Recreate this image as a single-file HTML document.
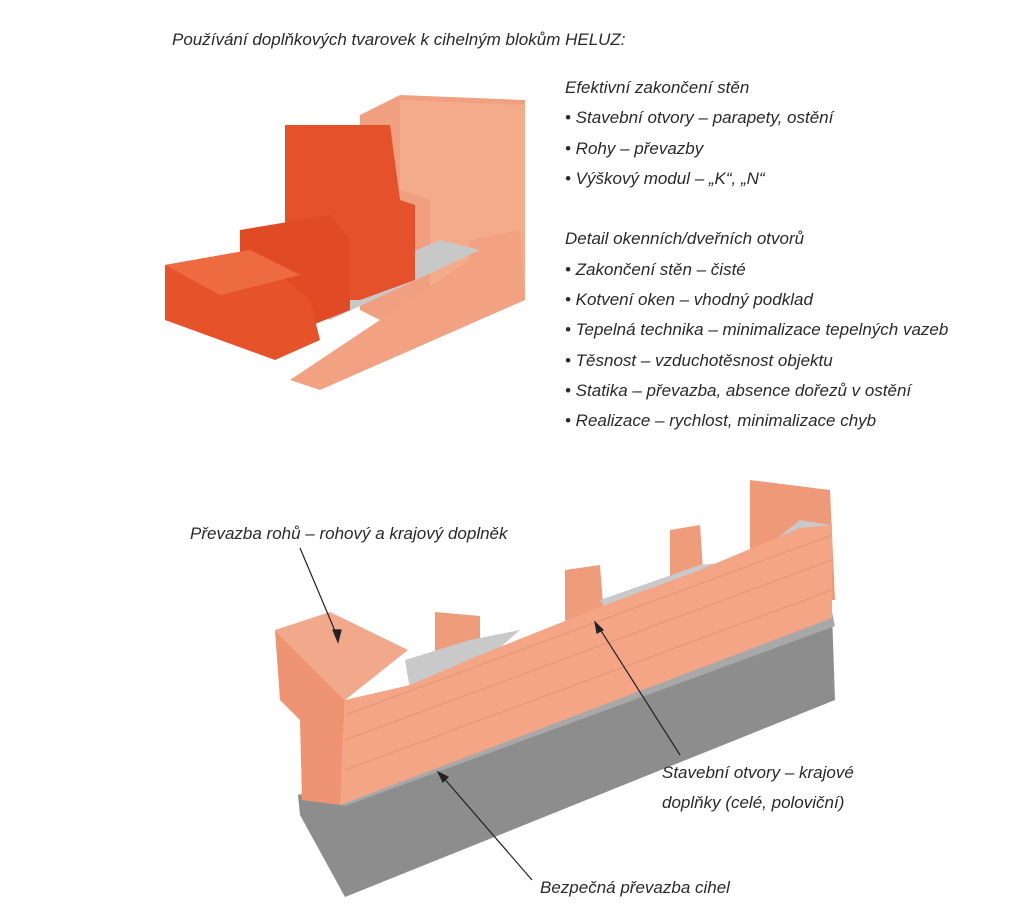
<!DOCTYPE html>
<html><head><meta charset="utf-8"><style>
html,body{margin:0;padding:0;background:#fff;width:1024px;height:915px;overflow:hidden}
.t{position:absolute;font-family:"Liberation Sans",sans-serif;font-style:italic;color:#2a2a2a;font-size:17px;white-space:nowrap}
</style></head><body>
<div class="t" style="left:172px;top:30px">Používání doplňkových tvarovek k cihelným blokům HELUZ:</div>
<div class="t" style="left:565px;top:73px;line-height:30.3px">Efektivní zakončení stěn<br>• Stavební otvory – parapety, ostění<br>• Rohy – převazby<br>• Výškový modul – „K“, „N“<br><br>Detail okenních/dveřních otvorů<br>• Zakončení stěn – čisté<br>• Kotvení oken – vhodný podklad<br>• Tepelná technika – minimalizace tepelných vazeb<br>• Těsnost – vzduchotěsnost objektu<br>• Statika – převazba, absence dořezů v ostění<br>• Realizace – rychlost, minimalizace chyb</div>
<svg width="1024" height="915" style="position:absolute;left:0;top:0">
<!-- top illustration -->
<polygon points="360,115 400,95 525,100 525,300 400,330 360,310" fill="#f0a080"/>
<polygon points="400,100 525,105 525,300 430,320 430,200 400,190" fill="#f4ab8c"/>
<polygon points="290,380 470,260 470,240 520,230 525,300 320,390" fill="#f2a283"/>
<polygon points="300,300 440,240 480,250 330,320" fill="#c8c8c8"/>
<polygon points="285,125 390,125 400,200 415,205 415,280 360,300 300,300 300,230 285,230" fill="#e5512a"/>
<polygon points="240,230 330,215 350,240 350,310 300,330 240,300" fill="#e04a24"/>
<polygon points="165,265 250,250 310,300 320,340 275,360 165,320" fill="#e6532b"/>
<polygon points="165,265 250,250 300,275 220,295" fill="#ee6a40"/>
<!-- bottom: concrete base -->
<polygon points="298,795 832,612 835,700 345,897 300,815" fill="#8d8d8d"/>
<polygon points="298,795 832,612 835,626 345,806" fill="#a8a8a8"/>
<!-- back pillars -->
<polygon points="750,480 830,490 835,600 750,600" fill="#ee9a78"/>
<polygon points="670,530 700,525 705,600 670,600" fill="#ef9c7b"/>
<polygon points="565,570 600,565 605,630 565,630" fill="#ef9c7b"/>
<polygon points="435,612 480,616 480,670 435,670" fill="#ef9c7b"/>
<!-- gray tops -->
<polygon points="600,600 700,565 750,560 800,520 830,525 830,540 700,585 610,615" fill="#c9c9c9"/>
<polygon points="405,660 470,640 520,630 480,665 410,690" fill="#c9c9c9"/>
<!-- front face -->
<polygon points="340,805 832,618 832,525 800,528 700,570 605,605 480,655 410,685 345,700" fill="#f3a585"/>
<!-- left end -->
<polygon points="275,630 345,700 340,805 302,800 300,720 280,700" fill="#ee9473"/>
<polygon points="275,630 330,612 408,650 345,700" fill="#f2a88a"/>
<g stroke="#e08a68" stroke-width="1" opacity="0.6">
<line x1="345" y1="740" x2="832" y2="560"/><line x1="345" y1="770" x2="832" y2="590"/><line x1="345" y1="715" x2="832" y2="535"/>
</g>
<g stroke="#222" stroke-width="1.2" fill="#222">
<line x1="300" y1="548" x2="338" y2="638"/><polygon points="338,642 333,630 341,630"/>
<line x1="680" y1="755" x2="598" y2="626"/><polygon points="595,622 603,630 597,633"/>
<line x1="532" y1="880" x2="442" y2="776"/><polygon points="438,772 448,777 443,782"/>
</g>
<text x="190" y="539" font-family="Liberation Sans" font-style="italic" font-size="17" fill="#2a2a2a">Převazba rohů – rohový a krajový doplněk</text>
<text x="662" y="778" font-family="Liberation Sans" font-style="italic" font-size="17" fill="#2a2a2a">Stavební otvory – krajové</text>
<text x="662" y="808" font-family="Liberation Sans" font-style="italic" font-size="17" fill="#2a2a2a">doplňky (celé, poloviční)</text>
<text x="540" y="893" font-family="Liberation Sans" font-style="italic" font-size="17" fill="#2a2a2a">Bezpečná převazba cihel</text>
</svg>
</body></html>
